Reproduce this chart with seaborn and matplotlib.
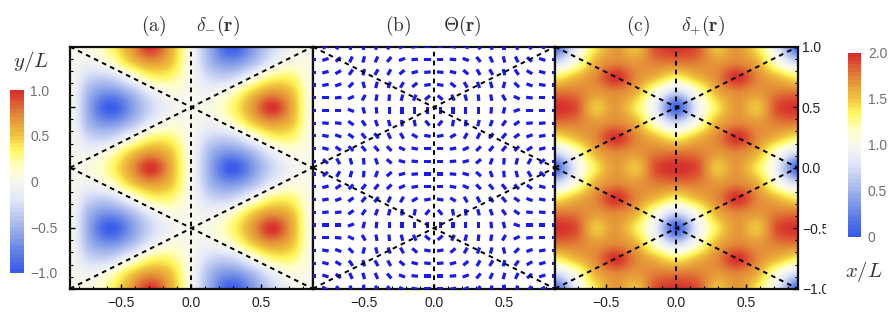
import numpy as np
import matplotlib
matplotlib.use("Agg")
import matplotlib.pyplot as plt
from matplotlib.colors import LinearSegmentedColormap
from matplotlib.ticker import MultipleLocator, FixedLocator, FuncFormatter
from matplotlib.transforms import Bbox, TransformedBbox, IdentityTransform
import seaborn as sns

sns.set_theme(style="ticks")
plt.rcParams["font.family"] = ["Liberation Sans", "DejaVu Sans"]
plt.rcParams["mathtext.fontset"] = "cm"

W, H = 894, 329
XMAX = 0.866
YMAX = 1.0

# Field readings for the right half of one repeat of the pattern.
# Rows: y = 0.5, 0.625, 0.75, 0.875, 1.0; columns: x = 0 ... 0.866 in 6 steps plus the axis
delta_minus_cells = [
    [0.0,  0.05,  0.30, 0.66, 1.00, 0.60, 0.0],
    [0.0, -0.06,  0.13, 0.48, 0.68, 0.52, 0.0],
    [0.0, -0.30, -0.30, 0.00, 0.30, 0.30, 0.0],
    [0.0, -0.52, -0.68, -0.48, -0.13, 0.06, 0.0],
    [0.0, -0.60, -1.00, -0.66, -0.30, -0.05, 0.0],
]
delta_plus_cells = [
    [0.05, 0.85, 1.38, 1.68, 1.52, 1.92, 2.00],
    [0.70, 1.08, 1.58, 1.74, 1.68, 1.78, 1.80],
    [1.35, 1.55, 1.74, 2.00, 1.74, 1.55, 1.35],
    [1.80, 1.78, 1.68, 1.74, 1.58, 1.08, 0.70],
    [2.00, 1.92, 1.52, 1.68, 1.38, 0.85, 0.05],
]
row_order = [4, 3, 2, 1, 0, 1, 2, 3, 4, 3, 2, 1, 0, 1, 2, 3, 4]

# Dash orientation in degrees, upper left quarter of panel (b), 10 rows by 10 columns
theta_quarter = [
    [0, 30, 55, 75, 90, 75, 55, 25, 10, 0],
    [0, 18, 40, 65, 75, 65, 50, 20, 5, 0],
    [0, 15, 30, 55, 75, 60, 60, 40, 15, 5],
    [0, 10, 20, 45, 105, 75, 70, 60, 40, 10],
    [0, 0, 5, 25, 60, 80, 85, 75, 65, 40],
    [0, 0, 0, -20, -75, 95, 90, 90, 90, 90],
    [0, -5, -5, -35, -55, -70, -75, -85, -80, -50],
    [0, -10, -20, -35, -50, -50, -65, -60, -30, -10],
    [0, -15, -35, -45, -50, -50, -45, -25, -10, 0],
    [0, -40, -60, -75, -85, -70, -40, -15, -5, 0],
]

# Dashed domain lines
line_x = [[-0.866, 0.866], [-0.866, 0.866], [-0.866, 0.866], [-0.866, 0.866], [0.0, 0.0]]
line_y = [[1.0, 0.0], [0.0, 1.0], [0.0, -1.0], [-1.0, 0.0], [-1.0, 1.0]]

tick_major = [-0.5, 0.0, 0.5]
titles = [("(a)", 154, r"\delta_{-}(\mathbf{r})", 218),
          ("(b)", 398, r"\Theta(\mathbf{r})", 462),
          ("(c)", 638, r"\delta_{+}(\mathbf{r})", 703)]
cbar_left_ticks = [1.0, 0.5, 0.0, -0.5, -1.0]
cbar_left_labels = ["1.0", "0.5", "0", "\u22120.5", "\u22121.0"]
cbar_right_ticks = [2.0, 1.5, 1.0, 0.5, 0.0]
cbar_right_labels = ["2.0", "1.5", "1.0", "0.5", "0"]

cmap = LinearSegmentedColormap.from_list("temp", [
    (0.00, "#3A5BEA"), (0.12, "#6584E6"), (0.25, "#A5B6EC"), (0.40, "#E2E7F8"),
    (0.50, "#F8F8EE"), (0.58, "#FFFFC8"), (0.68, "#FFF65A"), (0.76, "#EFC43C"),
    (0.87, "#E38A38"), (1.00, "#D8312C")])


def px_axes(x0, y0, x1, y1):
    return fig.add_axes([x0 / W, 1 - y1 / H, (x1 - x0) / W, (y1 - y0) / H])


fig = plt.figure(figsize=(W / 100, H / 100), dpi=100)
ax_a = px_axes(70, 46.7, 312.7, 288.7)
ax_b = px_axes(312.7, 46.7, 555, 288.7)
ax_c = px_axes(555, 46.7, 797.7, 288.7)

dx = XMAX / 6
dy = YMAX / 8
extent = (-XMAX - dx / 2, XMAX + dx / 2, -YMAX - dy / 2, YMAX + dy / 2)

half_a = np.array(delta_minus_cells)[row_order]
field_a = np.hstack([-half_a[:, :0:-1], half_a])
half_c = np.array(delta_plus_cells)[row_order]
field_c = np.hstack([half_c[:, :0:-1], half_c])

ax_a.imshow(field_a, extent=extent, cmap=cmap, vmin=-1, vmax=1, aspect="auto",
            interpolation="catrom", interpolation_stage="data")
ax_c.imshow(field_c, extent=extent, cmap=cmap, vmin=0, vmax=2, aspect="auto",
            interpolation="catrom", interpolation_stage="data")
ax_b.set_facecolor("white")

# Panel (b): headless dashes
T = np.array(theta_quarter, dtype=float)
top = np.hstack([T, -T[:, ::-1]])
theta = np.vstack([top, -top[::-1]])
X, Y = np.meshgrid(np.linspace(-XMAX, XMAX, 20), np.linspace(YMAX, -YMAX, 20))
L = 6.5
ax_b.quiver(X, Y, L * np.cos(np.radians(theta)), L * np.sin(np.radians(theta)),
            color="#1A1AF0", pivot="mid", angles="uv", units="dots", scale_units="dots",
            scale=1, width=3.2, headwidth=1, headlength=0, headaxislength=0, zorder=3)

fmt = FuncFormatter(lambda v, _: f"{v:.1f}".replace("-", "\u2212"))
for ax in (ax_a, ax_b, ax_c):
    for xs, ys in zip(line_x, line_y):
        sns.lineplot(x=xs, y=ys, ax=ax, color="black", linewidth=1.4, sort=False,
                     estimator=None, errorbar=None, linestyle=(0, (2.4, 2.2)), zorder=4)
    ax.set_xlim(-XMAX, XMAX)
    ax.set_ylim(-YMAX, YMAX)
    ax.xaxis.set_major_locator(FixedLocator(tick_major))
    ax.xaxis.set_minor_locator(MultipleLocator(0.1))
    ax.yaxis.set_major_locator(FixedLocator([-1.0, -0.5, 0.0, 0.5, 1.0]))
    ax.yaxis.set_minor_locator(MultipleLocator(0.1))
    ax.tick_params(axis="both", which="major", direction="in", length=3.5, width=1.0,
                   color="black", labelsize=10, labelcolor="#222222", pad=5)
    ax.tick_params(axis="both", which="minor", direction="in", length=2, width=0.8, color="black")
    ax.tick_params(axis="y", which="both", left=False, right=False, labelleft=False, labelright=False)
    ax.tick_params(axis="x", which="both", top=False)
    ax.xaxis.set_major_formatter(fmt)
    for s in ax.spines.values():
        s.set_linewidth(1.6)
        s.set_color("#111111")
        s.set_visible(True)
    ax.set_xlabel("")
    ax.set_ylabel("")
    ax.grid(False)

ax_a.tick_params(axis="y", which="both", left=True)
ax_c.tick_params(axis="y", which="both", right=True, labelright=True, pad=3)
ax_c.yaxis.set_major_formatter(fmt)

fig.canvas.draw()
clip_region = TransformedBbox(Bbox([[0, 0], [826, H]]), IdentityTransform())
for t in ax_c.yaxis.get_major_ticks():
    t.label2.set_clip_box(clip_region)
    t.label2.set_clip_on(True)


# Colour bars
def colour_bar(x0, y0, x1, y1, vmin, vmax, ticks, labels):
    cax = px_axes(x0, y0, x1, y1)
    ramp = np.linspace(vmax, vmin, 48)[:, None]
    sns.heatmap(ramp, ax=cax, cbar=False, cmap=cmap, vmin=vmin, vmax=vmax,
                xticklabels=False, yticklabels=False)
    pos = [(vmax - t) / (vmax - vmin) * 48 for t in ticks]
    cax.set_yticks(pos)
    cax.set_yticklabels(labels)
    cax.yaxis.tick_right()
    cax.tick_params(axis="y", length=0, labelsize=10, labelcolor="#707070", pad=5)
    for lab in cax.get_yticklabels():
        lab.set_rotation(0)
    cax.set_xlabel("")
    cax.set_ylabel("")


colour_bar(10, 90, 23.5, 273, -1.0, 1.0, cbar_left_ticks, cbar_left_labels)
colour_bar(847.5, 53, 861, 236.5, 0.0, 2.0, cbar_right_ticks, cbar_right_labels)

for label, lx, sym, sx in titles:
    fig.text(lx / W, 1 - 26 / H, rf"$\mathrm{{{label}}}$", ha="center", va="center",
             fontsize=14, color="#333333")
    fig.text(sx / W, 1 - 26 / H, f"${sym}$", ha="center", va="center",
             fontsize=14, color="#333333")
fig.text(31 / W, 1 - 61 / H, r"$y/L$", ha="center", va="center", fontsize=15, color="#333333")
fig.text(864 / W, 1 - 271 / H, r"$x/L$", ha="center", va="center", fontsize=15, color="#333333")

fig.savefig("out.png", dpi=100)
